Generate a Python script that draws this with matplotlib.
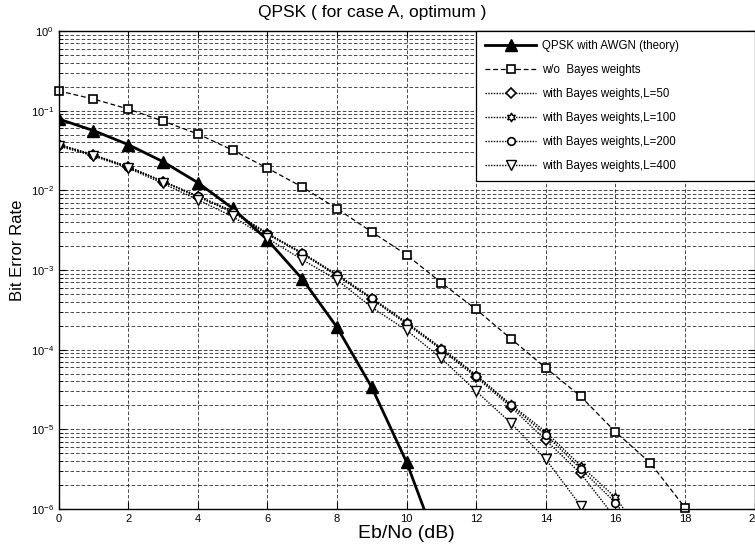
import numpy as np
import matplotlib
matplotlib.use('Agg')
import matplotlib.pyplot as plt
from matplotlib.ticker import LogLocator

plt.rcParams['font.family'] = ['Liberation Sans', 'DejaVu Sans']
plt.rcParams['mathtext.default'] = 'regular'
plt.rcParams['lines.scale_dashes'] = False

# Eb/No axis (dB)
snr_theory = [0, 1, 2, 3, 4, 5, 6, 7, 8, 9, 10, 11]
snr_wo = list(range(0, 19))
snr_50 = list(range(0, 17))
snr_100 = list(range(0, 18))
snr_200 = list(range(0, 18))
snr_400 = list(range(0, 17))

# bit error rates
ber_theory = [7.86e-2, 5.63e-2, 3.75e-2, 2.29e-2, 1.25e-2, 5.95e-3, 2.39e-3,
              7.73e-4, 1.91e-4, 3.36e-5, 3.87e-6, 2.61e-7]
ber_wo = [0.177, 0.140, 0.105, 0.074, 0.051, 0.032, 0.019, 0.011, 5.9e-3,
          3.0e-3, 1.55e-3, 6.9e-4, 3.2e-4, 1.37e-4, 5.9e-5, 2.6e-5, 9.3e-6,
          3.8e-6, 1.04e-6]
ber_50 = [0.037, 0.0275, 0.0195, 0.0128, 0.0083, 0.0053, 0.0028, 1.6e-3,
          8.5e-4, 4.3e-4, 2.1e-4, 1.0e-4, 4.5e-5, 1.9e-5, 7.3e-6, 2.8e-6, 7.7e-7]
ber_100 = [0.038, 0.028, 0.0198, 0.013, 0.0085, 0.0055, 0.0029, 1.65e-3,
           8.8e-4, 4.5e-4, 2.2e-4, 1.05e-4, 4.8e-5, 2.05e-5, 9.3e-6, 3.5e-6,
           1.4e-6, 3.5e-7]
ber_200 = [0.0375, 0.0278, 0.0196, 0.0129, 0.0084, 0.0054, 0.00285, 1.62e-3,
           8.6e-4, 4.4e-4, 2.15e-4, 1.02e-4, 4.7e-5, 2.0e-5, 8.5e-6, 3.2e-6,
           1.2e-6, 3.0e-7]
ber_400 = [0.036, 0.027, 0.019, 0.0122, 0.0076, 0.0047, 0.0025, 1.35e-3,
           7.5e-4, 3.4e-4, 1.75e-4, 7.8e-5, 3.0e-5, 1.2e-5, 4.2e-6, 1.1e-6, 2.0e-7]

labels = ['QPSK with AWGN (theory)', 'w/o  Bayes weights',
          'with Bayes weights,L=50', 'with Bayes weights,L=100',
          'with Bayes weights,L=200', 'with Bayes weights,L=400']

fig = plt.figure(figsize=(7.55, 5.51), dpi=100)
ax = fig.add_axes([58.6 / 755, 1 - 509 / 551, 696 / 755, 478 / 551])

dot = (0, (1.0, 1.0))
ax.plot(snr_theory, ber_theory, '-', color='k', lw=2.0, marker='^', ms=8,
        mfc='k', mec='k', label=labels[0])
ax.plot(snr_wo, ber_wo, color='k', lw=0.9, ls=(0, (3.5, 2.0)), marker='s', ms=6,
        mfc='white', mec='k', mew=1.2, label=labels[1], clip_on=False)
ax.plot(snr_50, ber_50, color='k', lw=1.0, ls=dot, marker='D', ms=5,
        mfc='white', mec='k', mew=1.2, label=labels[2])
ax.plot(snr_100, ber_100, color='k', lw=1.0, ls=dot, marker=(6, 1, 0), ms=6.5,
        mfc='white', mec='k', mew=1.0, label=labels[3])
ax.plot(snr_200, ber_200, color='k', lw=1.0, ls=dot, marker='o', ms=5.5,
        mfc='white', mec='k', mew=1.2, label=labels[4])
ax.plot(snr_400, ber_400, color='k', lw=1.0, ls=dot, marker='v', ms=6.5,
        mfc='white', mec='k', mew=1.0, label=labels[5])

ax.set_yscale('log')
ax.set_xlim(0, 20)
ax.set_ylim(1e-6, 1)
ax.set_xticks(range(0, 21, 2))
ax.yaxis.set_major_locator(LogLocator(base=10, numticks=10))
ax.yaxis.set_minor_locator(LogLocator(base=10, subs=np.arange(2, 10), numticks=10))

grid_ls = (0, (2.5, 1.5))
ax.grid(True, which='major', axis='both', color='k', lw=0.5, ls=grid_ls)
ax.grid(True, which='minor', axis='y', color='k', lw=0.5, ls=grid_ls)
ax.set_axisbelow(True)

ax.tick_params(which='both', direction='in', top=True, right=True,
               labelsize=8, colors='k')
ax.tick_params(which='major', length=5)
ax.tick_params(which='minor', length=3)
for s in ax.spines.values():
    s.set_linewidth(1.0)

# title sits left of centre in the original
ax.text(0.45, 1.0 + 19 / 478, 'QPSK ( for case A, optimum )', transform=ax.transAxes,
        ha='center', va='center', fontsize=12.5)
ax.set_xlabel('Eb/No (dB)', fontsize=14, labelpad=1)
ax.set_ylabel('Bit Error Rate', fontsize=12)
ax.yaxis.set_label_coords(-34 / 696, 0.542)

leg = ax.legend(loc='upper left', bbox_to_anchor=((476 - 58.6) / 696, 0, 1 - (476 - 58.6) / 696, 1.0),
                mode='expand', fontsize=8.3, borderaxespad=0, fancybox=False,
                framealpha=1, edgecolor='k', handlelength=4.4, labelspacing=1.03,
                borderpad=0.8, handletextpad=0.5)
leg.get_frame().set_linewidth(0.9)

fig.savefig('out.png', dpi=100)
